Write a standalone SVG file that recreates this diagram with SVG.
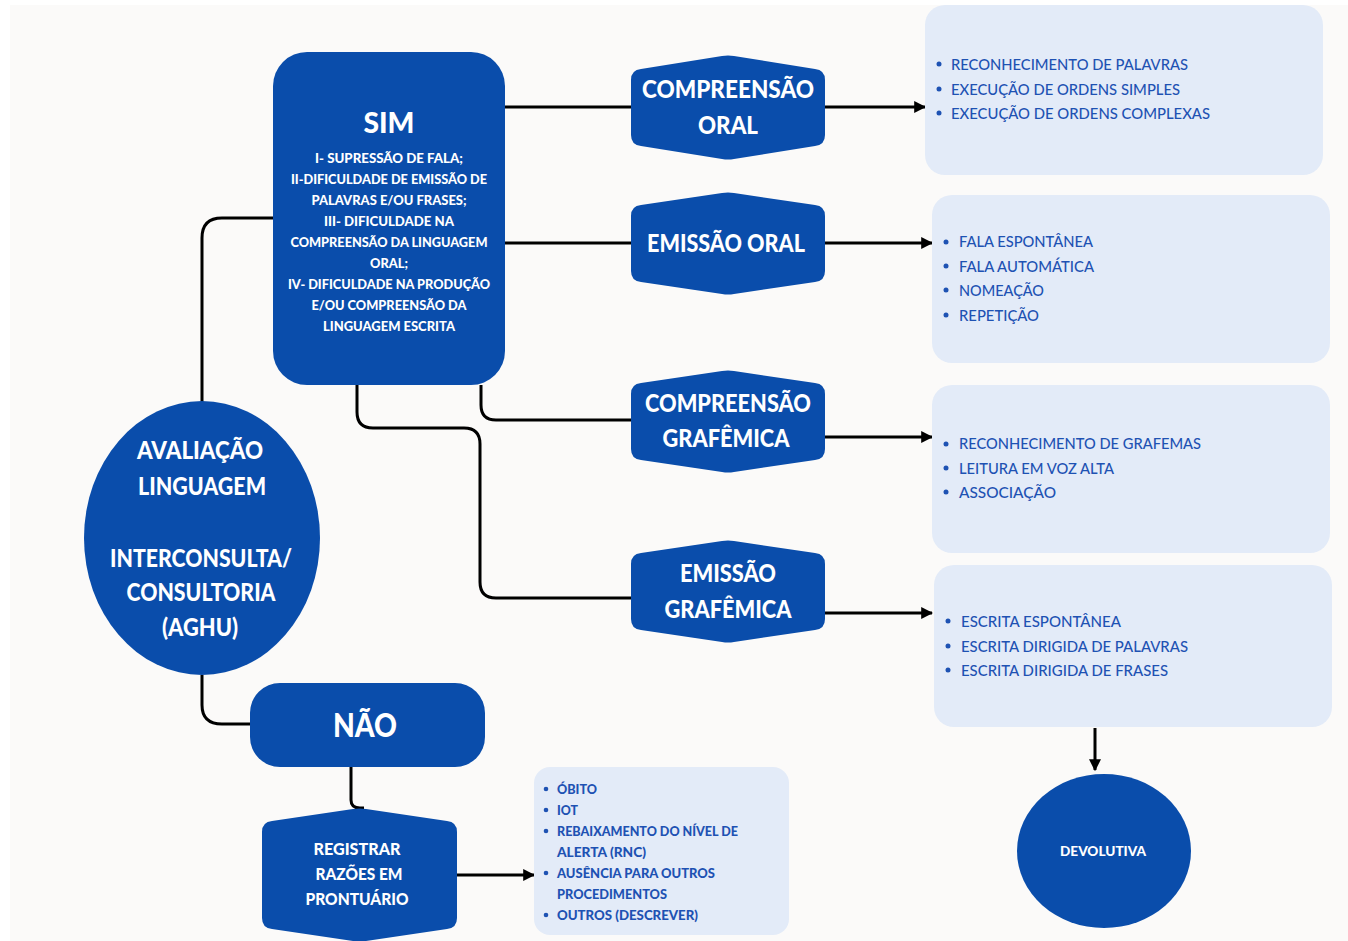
<svg xmlns="http://www.w3.org/2000/svg" width="1348" height="941" viewBox="0 0 1348 941">
<defs>
<marker id="arr" viewBox="0 0 10 10" refX="9" refY="5" markerWidth="4" markerHeight="4" orient="auto" markerUnits="strokeWidth">
<path d="M0,0 L10,5 L0,10 Z" fill="#000"/>
</marker>
<style>
.blue{fill:#0A4DAB}
.panel{fill:#E3EBF8}
.wt{fill:#fff;font-family:Lato,"Open Sans",sans-serif;font-weight:900;text-anchor:middle}
.pt{fill:#1E52B3;font-family:Lato,"Open Sans",sans-serif;font-size:15.5px;font-weight:500}
.pb{fill:#1E52B3;font-family:Lato,"Open Sans",sans-serif;font-size:13px;font-weight:900}
.bul{fill:#1E52B3}
.conn{fill:none;stroke:#000;stroke-width:3}
</style>
</defs>
<rect x="0" y="0" width="1348" height="941" fill="#fff"/>
<rect x="10" y="5" width="1338" height="936" fill="#FBFAF9"/>

<g id="connectors">
<path class="conn" d="M202,402 V238 Q202,218 222,218 H273"/>
<path class="conn" d="M202,675 V705 Q202,724 222,724 H250"/>
<path class="conn" d="M505,107 H631"/>
<path class="conn" d="M505,243 H631"/>
<path class="conn" d="M481,385 V405 Q481,420 496,420 H631"/>
<path class="conn" d="M357,385 V412 Q357,428 373,428 H464 Q480,428 480,444 V582 Q480,598 496,598 H631"/>
<path class="conn" d="M825,107 H925" marker-end="url(#arr)"/>
<path class="conn" d="M825,243 H932" marker-end="url(#arr)"/>
<path class="conn" d="M825,437 H932" marker-end="url(#arr)"/>
<path class="conn" d="M825,613 H932" marker-end="url(#arr)"/>
<path class="conn" d="M351,767 V800 Q351,808 360,808 H364"/>
<path class="conn" d="M457,875 H534" marker-end="url(#arr)"/>
<path class="conn" d="M1095,728 V770" marker-end="url(#arr)"/>
</g>

<g id="panel-compreensao-oral">
<rect class="panel" x="925" y="5" width="398" height="170" rx="20"/>
<circle class="bul" cx="939" cy="64" r="2.5"/><circle class="bul" cx="939" cy="89" r="2.5"/><circle class="bul" cx="939" cy="113" r="2.5"/>
<text class="pt" x="951" y="70" textLength="237" lengthAdjust="spacingAndGlyphs">RECONHECIMENTO DE PALAVRAS</text>
<text class="pt" x="951" y="95" textLength="229" lengthAdjust="spacingAndGlyphs">EXECUÇÃO DE ORDENS SIMPLES</text>
<text class="pt" x="951" y="119" textLength="259" lengthAdjust="spacingAndGlyphs">EXECUÇÃO DE ORDENS COMPLEXAS</text>
</g>

<g id="panel-emissao-oral">
<rect class="panel" x="932" y="195" width="398" height="168" rx="20"/>
<circle class="bul" cx="946" cy="242" r="2.5"/><circle class="bul" cx="946" cy="266" r="2.5"/><circle class="bul" cx="946" cy="290" r="2.5"/><circle class="bul" cx="946" cy="315" r="2.5"/>
<text class="pt" x="959" y="247" textLength="134" lengthAdjust="spacingAndGlyphs">FALA ESPONTÂNEA</text>
<text class="pt" x="959" y="272" textLength="135" lengthAdjust="spacingAndGlyphs">FALA AUTOMÁTICA</text>
<text class="pt" x="959" y="296" textLength="85" lengthAdjust="spacingAndGlyphs">NOMEAÇÃO</text>
<text class="pt" x="959" y="321" textLength="80" lengthAdjust="spacingAndGlyphs">REPETIÇÃO</text>
</g>

<g id="panel-compreensao-grafemica">
<rect class="panel" x="932" y="385" width="398" height="168" rx="20"/>
<circle class="bul" cx="946" cy="444" r="2.5"/><circle class="bul" cx="946" cy="468" r="2.5"/><circle class="bul" cx="946" cy="492" r="2.5"/>
<text class="pt" x="959" y="449" textLength="242" lengthAdjust="spacingAndGlyphs">RECONHECIMENTO DE GRAFEMAS</text>
<text class="pt" x="959" y="474" textLength="155" lengthAdjust="spacingAndGlyphs">LEITURA EM VOZ ALTA</text>
<text class="pt" x="959" y="498" textLength="97" lengthAdjust="spacingAndGlyphs">ASSOCIAÇÃO</text>
</g>

<g id="panel-emissao-grafemica">
<rect class="panel" x="934" y="565" width="398" height="162" rx="20"/>
<circle class="bul" cx="948" cy="621" r="2.5"/><circle class="bul" cx="948" cy="646" r="2.5"/><circle class="bul" cx="948" cy="670" r="2.5"/>
<text class="pt" x="961" y="627" textLength="160" lengthAdjust="spacingAndGlyphs">ESCRITA ESPONTÂNEA</text>
<text class="pt" x="961" y="652" textLength="227" lengthAdjust="spacingAndGlyphs">ESCRITA DIRIGIDA DE PALAVRAS</text>
<text class="pt" x="961" y="676" textLength="207" lengthAdjust="spacingAndGlyphs">ESCRITA DIRIGIDA DE FRASES</text>
</g>

<g id="panel-razoes">
<rect class="panel" x="534" y="767" width="255" height="168" rx="16"/>
<circle class="bul" cx="546" cy="789" r="2.3"/><circle class="bul" cx="546" cy="810" r="2.3"/><circle class="bul" cx="546" cy="831" r="2.3"/><circle class="bul" cx="546" cy="873" r="2.3"/><circle class="bul" cx="546" cy="915" r="2.3"/>
<text class="pb" x="557" y="794" textLength="40" lengthAdjust="spacingAndGlyphs">ÓBITO</text>
<text class="pb" x="557" y="815" textLength="21" lengthAdjust="spacingAndGlyphs">IOT</text>
<text class="pb" x="557" y="836" textLength="181" lengthAdjust="spacingAndGlyphs">REBAIXAMENTO DO NÍVEL DE</text>
<text class="pb" x="557" y="857" textLength="89" lengthAdjust="spacingAndGlyphs">ALERTA (RNC)</text>
<text class="pb" x="557" y="878" textLength="158" lengthAdjust="spacingAndGlyphs">AUSÊNCIA PARA OUTROS</text>
<text class="pb" x="557" y="899" textLength="110" lengthAdjust="spacingAndGlyphs">PROCEDIMENTOS</text>
<text class="pb" x="557" y="920" textLength="141" lengthAdjust="spacingAndGlyphs">OUTROS (DESCREVER)</text>
</g>

<g id="node-sim">
<rect class="blue" x="273" y="52" width="232" height="333" rx="34"/>
<text class="wt" x="389" y="133" font-size="29" textLength="51" lengthAdjust="spacingAndGlyphs">SIM</text>
<g font-size="13">
<text class="wt" x="389" y="163" textLength="148" lengthAdjust="spacingAndGlyphs">I- SUPRESSÃO DE FALA;</text>
<text class="wt" x="389" y="184" textLength="196" lengthAdjust="spacingAndGlyphs">II-DIFICULDADE DE EMISSÃO DE</text>
<text class="wt" x="389" y="205" textLength="155" lengthAdjust="spacingAndGlyphs">PALAVRAS E/OU FRASES;</text>
<text class="wt" x="389" y="226" textLength="130" lengthAdjust="spacingAndGlyphs">III- DIFICULDADE NA</text>
<text class="wt" x="389" y="247" textLength="197" lengthAdjust="spacingAndGlyphs">COMPREENSÃO DA LINGUAGEM</text>
<text class="wt" x="389" y="268" textLength="38" lengthAdjust="spacingAndGlyphs">ORAL;</text>
<text class="wt" x="389" y="289" textLength="202" lengthAdjust="spacingAndGlyphs">IV- DIFICULDADE NA PRODUÇÃO</text>
<text class="wt" x="389" y="310" textLength="155" lengthAdjust="spacingAndGlyphs">E/OU COMPREENSÃO DA</text>
<text class="wt" x="389" y="331" textLength="132" lengthAdjust="spacingAndGlyphs">LINGUAGEM ESCRITA</text>
</g>
</g>

<g id="node-compreensao-oral">
<path class="blue" d="M631,80 Q631,70 641,69 L722,56 Q728,55 734,56 L815,69 Q825,70 825,80 V135 Q825,145 815,146 L734,159 Q728,160 722,159 L641,146 Q631,145 631,135 Z"/>
<text class="wt" x="728" y="98" font-size="25" textLength="172" lengthAdjust="spacingAndGlyphs">COMPREENSÃO</text>
<text class="wt" x="728" y="134" font-size="25" textLength="60" lengthAdjust="spacingAndGlyphs">ORAL</text>
</g>

<g id="node-emissao-oral">
<path class="blue" d="M631,216 Q631,206 641,205 L722,193 Q728,192 734,193 L815,205 Q825,206 825,216 V271 Q825,281 815,282 L734,294 Q728,295 722,294 L641,282 Q631,281 631,271 Z"/>
<text class="wt" x="726" y="252" font-size="25" textLength="158" lengthAdjust="spacingAndGlyphs">EMISSÃO ORAL</text>
</g>

<g id="node-compreensao-grafemica">
<path class="blue" d="M631,394 Q631,384 641,383 L722,371 Q728,370 734,371 L815,383 Q825,384 825,394 V449 Q825,459 815,460 L734,472 Q728,473 722,472 L641,460 Q631,459 631,449 Z"/>
<text class="wt" x="728" y="412" font-size="24" textLength="166" lengthAdjust="spacingAndGlyphs">COMPREENSÃO</text>
<text class="wt" x="726" y="447" font-size="24" textLength="127" lengthAdjust="spacingAndGlyphs">GRAFÊMICA</text>
</g>

<g id="node-emissao-grafemica">
<path class="blue" d="M631,564 Q631,554 641,553 L722,541 Q728,540 734,541 L815,553 Q825,554 825,564 V619 Q825,629 815,630 L734,642 Q728,643 722,642 L641,630 Q631,629 631,619 Z"/>
<text class="wt" x="728" y="582" font-size="24" textLength="96" lengthAdjust="spacingAndGlyphs">EMISSÃO</text>
<text class="wt" x="728" y="618" font-size="24" textLength="127" lengthAdjust="spacingAndGlyphs">GRAFÊMICA</text>
</g>

<g id="node-avaliacao">
<ellipse class="blue" cx="202" cy="538" rx="118" ry="137"/>
<text class="wt" x="200" y="459" font-size="24" textLength="126" lengthAdjust="spacingAndGlyphs">AVALIAÇÃO</text>
<text class="wt" x="202" y="495" font-size="24" textLength="128" lengthAdjust="spacingAndGlyphs">LINGUAGEM</text>
<text class="wt" x="201" y="567" font-size="24" textLength="182" lengthAdjust="spacingAndGlyphs">INTERCONSULTA/</text>
<text class="wt" x="201" y="601" font-size="24" textLength="149" lengthAdjust="spacingAndGlyphs">CONSULTORIA</text>
<text class="wt" x="200" y="636" font-size="24" textLength="76" lengthAdjust="spacingAndGlyphs">(AGHU)</text>
</g>

<g id="node-nao">
<rect class="blue" x="250" y="683" width="235" height="84" rx="30"/>
<text class="wt" x="365" y="737" font-size="32" textLength="64" lengthAdjust="spacingAndGlyphs">NÃO</text>
</g>

<g id="node-registrar">
<path class="blue" d="M262,832 Q262,822 272,821 L353,809 Q359.5,808 366,809 L447,821 Q457,822 457,832 V918 Q457,928 447,929 L366,941 Q359.5,942 353,941 L272,929 Q262,928 262,918 Z"/>
<text class="wt" x="357" y="855" font-size="16" textLength="87" lengthAdjust="spacingAndGlyphs">REGISTRAR</text>
<text class="wt" x="359" y="880" font-size="16" textLength="87" lengthAdjust="spacingAndGlyphs">RAZÕES EM</text>
<text class="wt" x="357" y="905" font-size="16" textLength="103" lengthAdjust="spacingAndGlyphs">PRONTUÁRIO</text>
</g>

<g id="node-devolutiva">
<ellipse class="blue" cx="1104" cy="851" rx="87" ry="77"/>
<text class="wt" x="1103" y="856" font-size="13" textLength="86" lengthAdjust="spacingAndGlyphs">DEVOLUTIVA</text>
</g>
</svg>
